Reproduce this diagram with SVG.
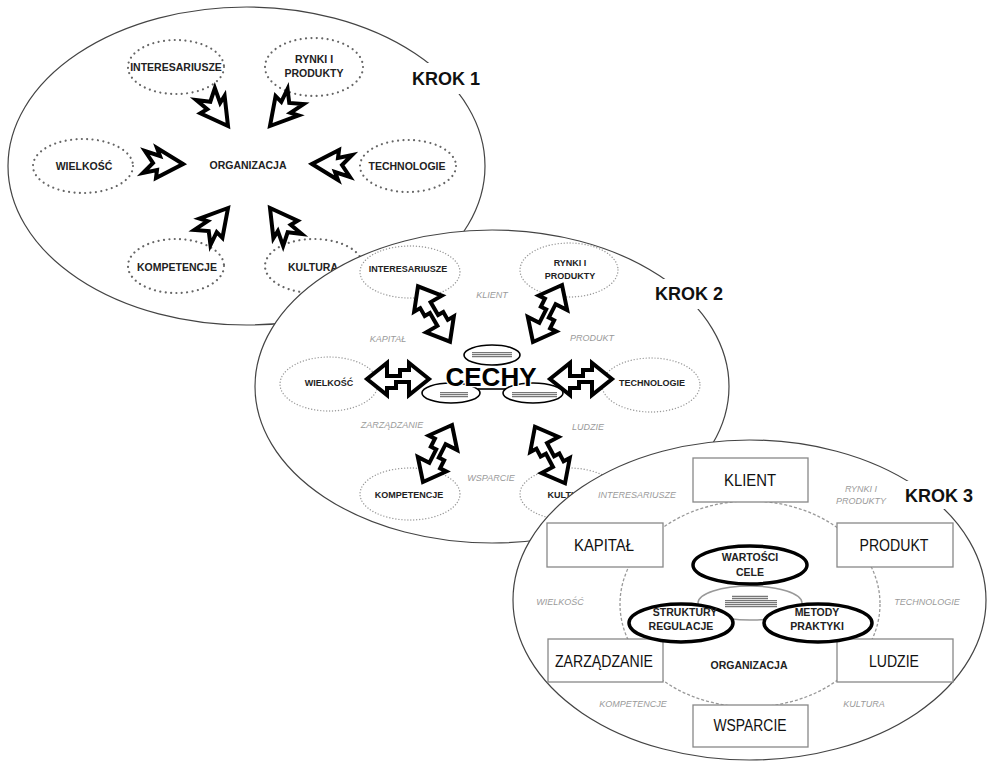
<svg xmlns="http://www.w3.org/2000/svg" width="987" height="762" viewBox="0 0 987 762">
<defs>
<style>
text{font-family:"Liberation Sans",Arial,sans-serif;}
.big{fill:#fff;stroke:#444;stroke-width:1.2}
.krok{font-size:18px;font-weight:bold;fill:#111}
.dot1{fill:#fff;stroke:#666;stroke-width:2.2;stroke-dasharray:0.01 5.4;stroke-linecap:round}
.dot2{fill:#fff;stroke:#999;stroke-width:1.4;stroke-dasharray:0.01 3;stroke-linecap:round}
.l1{font-size:10.5px;font-weight:bold;fill:#222;text-anchor:middle}
.l2{font-size:9px;font-weight:bold;fill:#222;text-anchor:middle}
.g{font-size:9px;font-style:italic;fill:#9a9a9a;text-anchor:middle}
.arr{fill:#fff;stroke:#000;stroke-width:4;stroke-linejoin:miter}
.box{fill:#fff;stroke:#888;stroke-width:1.3}
.bl{font-size:16px;fill:#111;text-anchor:middle}
.be{fill:#fff;stroke:#000;stroke-width:3.5}
.ce{fill:#fff;stroke:#000;stroke-width:1.6}
.l3{font-size:10.5px;font-weight:bold;fill:#222;text-anchor:middle}
.wb{fill:#fff}
</style>
<pattern id="hatch" width="2" height="2" patternUnits="userSpaceOnUse"><rect width="2" height="2" fill="#ddd"/><rect width="2" height="1" fill="#777"/></pattern>
<path id="ja" d="M0,0 L-26,-16 L-23,-8 L-38,-13 L-30,-1 L-40,9 L-26,6 L-27,14 Z"/>
<path id="dh" d="M31,0 L11,-16 L11,-9 L2,-9 L2,-3 L-11,-3 L-11,-16 L-31,0 L-11,16 L-11,9 L-2,9 L-2,3 L11,3 L11,16 Z"/>
<path id="dd" d="M32,0 L12,-16 L12,-9 L3,-9 L3,-3 L-12,-3 L-12,-16 L-32,0 L-12,16 L-12,9 L-3,9 L-3,3 L12,3 L12,16 Z"/>
</defs>
<rect width="987" height="762" fill="#fff"/>

<!-- KROK 1 -->
<g id="krok1">
<ellipse class="big" cx="246.5" cy="166" rx="238.5" ry="159"/>
<g id="k1-interesariusze"><ellipse class="dot1" cx="176" cy="67" rx="48" ry="27"/><text class="l1" x="176" y="71">INTERESARIUSZE</text></g>
<g id="k1-rynki"><ellipse class="dot1" cx="314" cy="67" rx="49" ry="29"/><text class="l1" x="314" y="63">RYNKI I</text><text class="l1" x="314" y="77">PRODUKTY</text></g>
<g id="k1-wielkosc"><ellipse class="dot1" cx="83" cy="166" rx="50" ry="27"/><text class="l1" x="84" y="170">WIELKOŚĆ</text></g>
<g id="k1-technologie"><ellipse class="dot1" cx="408" cy="166" rx="48" ry="26"/><text class="l1" x="407" y="170">TECHNOLOGIE</text></g>
<g id="k1-kompetencje"><ellipse class="dot1" cx="176" cy="266" rx="48" ry="27"/><text class="l1" x="177" y="271">KOMPETENCJE</text></g>
<g id="k1-kultura"><ellipse class="dot1" cx="314" cy="266" rx="49" ry="27"/><text class="l1" x="313" y="271">KULTURA</text></g>
<g id="k1-organizacja"><text class="l1" x="248" y="169">ORGANIZACJA</text></g>
<g id="k1-connectors">
<use href="#ja" class="arr" transform="translate(183,164)"/>
<use href="#ja" class="arr" transform="translate(312,164) rotate(180)"/>
<use href="#ja" class="arr" transform="translate(228,126) rotate(52)"/>
<use href="#ja" class="arr" transform="translate(270,126) rotate(128)"/>
<use href="#ja" class="arr" transform="translate(228,208) rotate(-52)"/>
<use href="#ja" class="arr" transform="translate(270,208) rotate(-128)"/>
</g>
<rect class="wb" x="405" y="63" width="82" height="31"/>
<text class="krok" x="412" y="85">KROK 1</text>
</g>

<!-- KROK 2 -->
<g id="krok2">
<ellipse class="big" cx="492" cy="386.5" rx="237" ry="156.5"/>
<g id="k2-interesariusze"><ellipse class="dot2" cx="410" cy="272" rx="50" ry="26"/><text class="l2" x="408" y="272">INTERESARIUSZE</text></g>
<g id="k2-rynki"><ellipse class="dot2" cx="569" cy="270" rx="49" ry="27"/><text class="l2" x="570" y="266">RYNKI I</text><text class="l2" x="570" y="279">PRODUKTY</text></g>
<g id="k2-wielkosc"><ellipse class="dot2" cx="329" cy="384" rx="49" ry="27"/><text class="l2" x="329" y="386">WIELKOŚĆ</text></g>
<g id="k2-technologie"><ellipse class="dot2" cx="651" cy="385" rx="49" ry="27"/><text class="l2" x="652" y="386">TECHNOLOGIE</text></g>
<g id="k2-kompetencje"><ellipse class="dot2" cx="410" cy="494" rx="50" ry="26"/><text class="l2" x="409" y="498">KOMPETENCJE</text></g>
<g id="k2-kultura"><ellipse class="dot2" cx="569" cy="494" rx="49" ry="26"/><text class="l2" x="569" y="498">KULTURA</text></g>
<g id="k2-gray">
<text class="g" x="492" y="298">KLIENT</text>
<text class="g" x="388" y="342">KAPITAŁ</text>
<text class="g" x="592" y="341">PRODUKT</text>
<text class="g" x="392" y="428">ZARZĄDZANIE</text>
<text class="g" x="588" y="430">LUDZIE</text>
<text class="g" x="491" y="481">WSPARCIE</text>
</g>
<g id="k2-cechy">
<ellipse class="ce" cx="492" cy="355" rx="28" ry="10"/>
<rect x="472" y="352" width="40" height="6" fill="url(#hatch)"/>
<line x1="478" y1="389" x2="506" y2="389" stroke="#000" stroke-width="1.6"/>
<ellipse class="ce" cx="451" cy="393" rx="29" ry="10"/>
<ellipse class="ce" cx="533" cy="393" rx="30" ry="10"/>
<rect x="440" y="392" width="28" height="6" fill="url(#hatch)"/>
<rect x="512" y="392" width="45" height="6" fill="url(#hatch)"/>
<text x="491" y="386" font-size="26" font-weight="bold" text-anchor="middle" fill="#000" stroke="#fff" stroke-width="2.5" paint-order="stroke">CECHY</text>
</g>
<g id="k2-connectors">
<use href="#dh" class="arr" transform="translate(398,379)"/>
<use href="#dh" class="arr" transform="translate(581,379)"/>
<use href="#dd" class="arr" transform="translate(434,314) rotate(60)"/>
<use href="#dd" class="arr" transform="translate(547.5,313.5) rotate(117)"/>
<use href="#dd" class="arr" transform="translate(437.5,453.5) rotate(117)"/>
<use href="#dd" class="arr" transform="translate(550,455) rotate(62)"/>
</g>
<rect class="wb" x="648" y="279" width="80" height="30"/>
<text class="krok" x="655" y="300">KROK 2</text>
</g>

<!-- KROK 3 -->
<g id="krok3">
<ellipse class="big" cx="749.5" cy="600" rx="236.5" ry="160"/>
<ellipse cx="750" cy="604" rx="130" ry="103" fill="none" stroke="#999" stroke-width="1.3" stroke-dasharray="3 2"/>
<g id="k3-gray">
<text class="g" x="637" y="498">INTERESARIUSZE</text>
<text class="g" x="861" y="492">RYNKI I</text>
<text class="g" x="861" y="504">PRODUKTY</text>
<text class="g" x="560" y="605">WIELKOŚĆ</text>
<text class="g" x="927" y="605">TECHNOLOGIE</text>
<text class="g" x="633" y="707">KOMPETENCJE</text>
<text class="g" x="864" y="707">KULTURA</text>
</g>
<g id="k3-klient"><rect class="box" x="693" y="458" width="115" height="44"/><text class="bl" x="750" y="486" textLength="52" lengthAdjust="spacingAndGlyphs">KLIENT</text></g>
<g id="k3-kapital"><rect class="box" x="547" y="523" width="116" height="44"/><text class="bl" x="604" y="551" textLength="60" lengthAdjust="spacingAndGlyphs">KAPITAŁ</text></g>
<g id="k3-produkt"><rect class="box" x="837" y="523" width="116" height="44"/><text class="bl" x="894" y="551" textLength="69" lengthAdjust="spacingAndGlyphs">PRODUKT</text></g>
<g id="k3-zarzadzanie"><rect class="box" x="548" y="639" width="115" height="43"/><text class="bl" x="604" y="667" textLength="98" lengthAdjust="spacingAndGlyphs">ZARZĄDZANIE</text></g>
<g id="k3-ludzie"><rect class="box" x="837" y="639" width="116" height="43"/><text class="bl" x="894" y="667" textLength="50" lengthAdjust="spacingAndGlyphs">LUDZIE</text></g>
<g id="k3-wsparcie"><rect class="box" x="693" y="705" width="115" height="42"/><text class="bl" x="750" y="731" textLength="73" lengthAdjust="spacingAndGlyphs">WSPARCIE</text></g>
<g id="k3-core">
<ellipse cx="750" cy="603" rx="52" ry="17" fill="#fff" stroke="#999" stroke-width="1.5"/>
<rect x="732" y="595" width="36" height="5" fill="url(#hatch)"/>
<rect x="725" y="600" width="52" height="8" fill="url(#hatch)"/>
</g>
<g id="k3-wartosci"><ellipse class="be" cx="750" cy="565" rx="57" ry="19"/><text class="l3" x="750" y="561">WARTOŚCI</text><text class="l3" x="750" y="576">CELE</text></g>
<g id="k3-struktury"><ellipse class="be" cx="681" cy="623" rx="52" ry="19"/><text class="l3" x="685" y="616">STRUKTURY</text><text class="l3" x="681" y="630">REGULACJE</text></g>
<g id="k3-metody"><ellipse class="be" cx="818" cy="623" rx="54" ry="19"/><text class="l3" x="817" y="616">METODY</text><text class="l3" x="817" y="630">PRAKTYKI</text></g>
<g id="k3-organizacja"><text class="l3" x="749" y="669">ORGANIZACJA</text></g>
<rect class="wb" x="898" y="481" width="82" height="28"/>
<text class="krok" x="905" y="502">KROK 3</text>
</g>
</svg>
